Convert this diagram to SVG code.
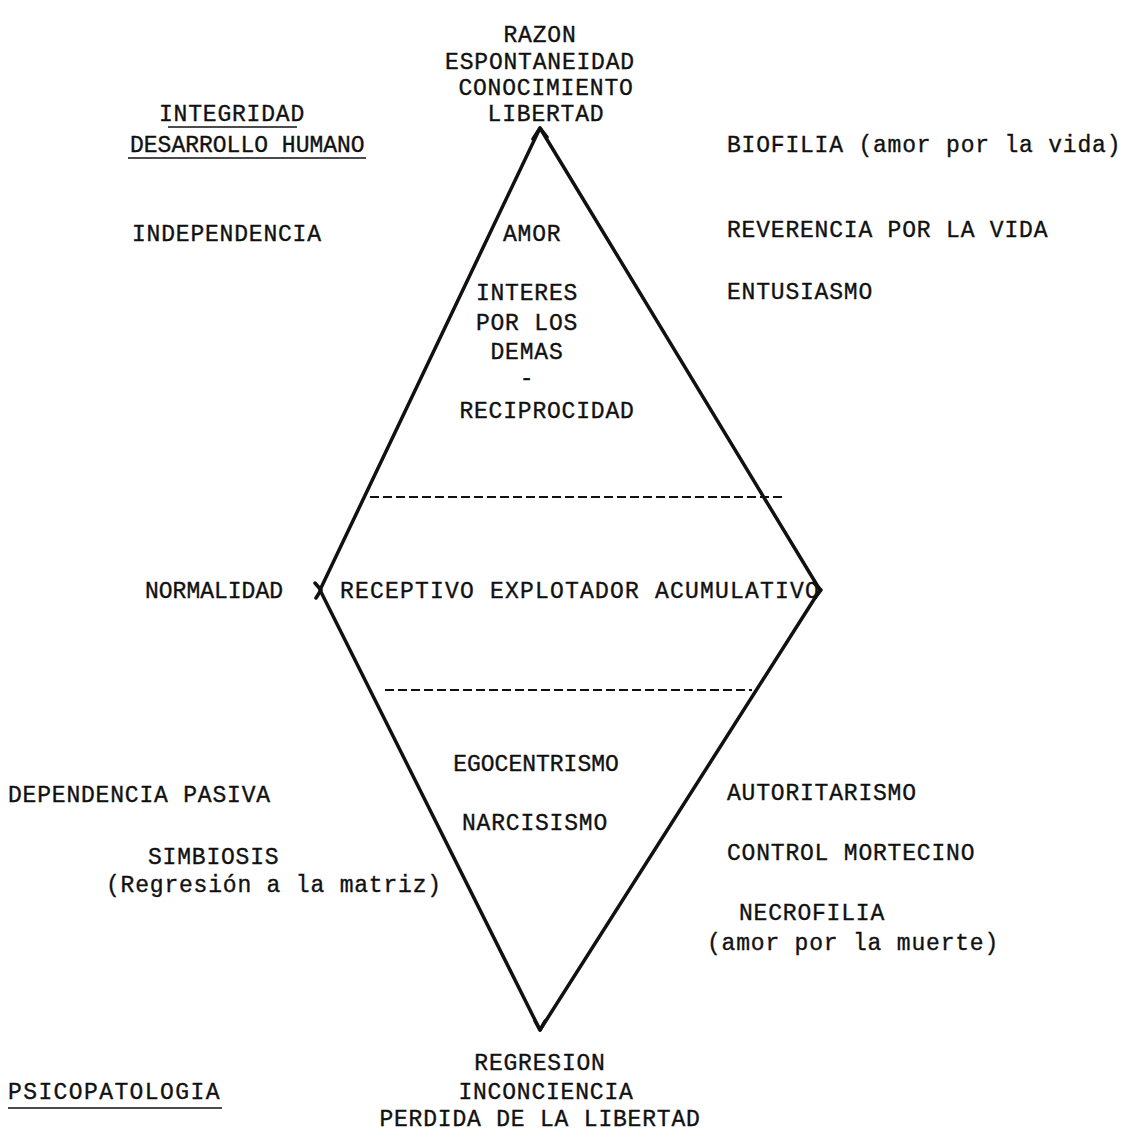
<svg xmlns="http://www.w3.org/2000/svg" width="1128" height="1133" viewBox="0 0 1128 1133">
<style>
text{font-family:"Liberation Mono","Courier New",monospace;font-size:23px;letter-spacing:0.8px;fill:#111;stroke:#111;stroke-width:0.35}
.c{text-anchor:middle}
.n{letter-spacing:0}
.edge{stroke:#111;stroke-width:3.5;fill:none;stroke-linecap:round;stroke-linejoin:round}
.dash{stroke:#111;stroke-width:1.8;stroke-dasharray:9 4;fill:none}
.ul{stroke:#111;stroke-width:1.6}
</style>
<rect width="1128" height="1133" fill="#fff"/>
<g id="connectors">
<polyline class="edge" points="320,590 540,128 820,590 540,1030 320,590"/>
<line class="dash" x1="370" y1="497" x2="785" y2="497"/>
<line class="dash" x1="385" y1="690" x2="752" y2="690"/>
<path class="edge" d="M533,139 L540,128 L547,137 M315,583 L321,590 L316,598 M814,583 L821,590 L815,598 M535,1021 L540,1030 L545,1021"/>
</g>
<g id="top"><text class="c" x="540" y="42">RAZON</text><text class="c" x="540" y="69">ESPONTANEIDAD</text><text class="c" x="546" y="95">CONOCIMIENTO</text><text class="c" x="546" y="121">LIBERTAD</text></g>
<g id="integridad"><text class="c" x="232" y="121">INTEGRIDAD</text><line class="ul" x1="168" y1="127" x2="297" y2="127"/><text class="n" x="130" y="152">DESARROLLO HUMANO</text><line class="ul" x1="128" y1="158" x2="366" y2="158"/></g>
<g id="biofilia"><text x="727" y="152">BIOFILIA (amor por la vida)</text></g>
<g id="independencia"><text x="132" y="241">INDEPENDENCIA</text></g>
<g id="amor"><text x="503" y="241">AMOR</text></g>
<g id="reverencia"><text x="727" y="237">REVERENCIA POR LA VIDA</text></g>
<g id="entusiasmo"><text x="727" y="299">ENTUSIASMO</text></g>
<g id="interes"><text class="c" x="527" y="300">INTERES</text><text class="c" x="527" y="330">POR LOS</text><text class="c" x="527" y="359">DEMAS</text><text class="c" x="527" y="385">-</text><text class="c" x="547" y="418">RECIPROCIDAD</text></g>
<g id="normalidad"><text class="n" x="145" y="598">NORMALIDAD</text></g>
<g id="orientaciones"><text x="340" y="598" style="letter-spacing:1.2px">RECEPTIVO EXPLOTADOR ACUMULATIVO</text></g>
<g id="ego"><text class="n c" x="536" y="771">EGOCENTRISMO</text><text class="c" x="535" y="830">NARCISISMO</text></g>
<g id="dependencia"><text x="8" y="802">DEPENDENCIA PASIVA</text></g>
<g id="simbiosis"><text x="148" y="864">SIMBIOSIS</text><text x="106" y="892">(Regresión a la matriz)</text></g>
<g id="autoritarismo"><text x="727" y="800">AUTORITARISMO</text></g>
<g id="control"><text x="727" y="860">CONTROL MORTECINO</text></g>
<g id="necrofilia"><text x="739" y="920">NECROFILIA</text><text x="707" y="950">(amor por la muerte)</text></g>
<g id="bottom"><text class="c" x="540" y="1070">REGRESION</text><text class="c" x="546" y="1099">INCONCIENCIA</text><text class="c" x="540" y="1126">PERDIDA DE LA LIBERTAD</text></g>
<g id="psicopatologia"><text x="8" y="1099" style="letter-spacing:1.4px">PSICOPATOLOGIA</text><line class="ul" x1="8" y1="1108" x2="222" y2="1108"/></g>
</svg>
